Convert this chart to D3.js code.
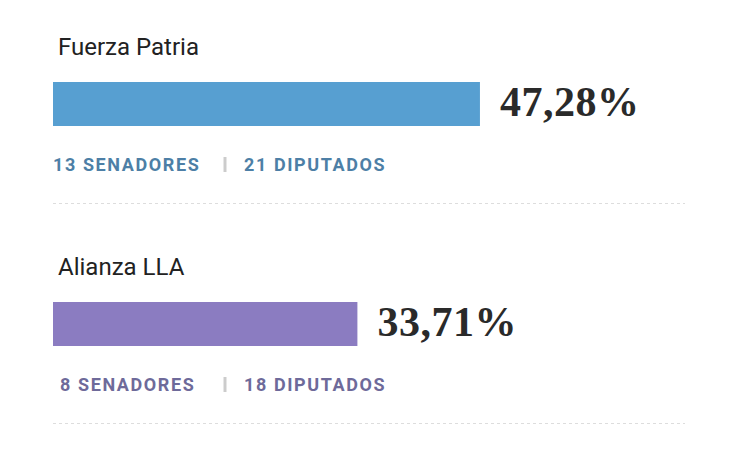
<!DOCTYPE html><html><head><meta charset="utf-8">
<script src="https://cdn.jsdelivr.net/npm/d3@7"></script>
<style>body{margin:0;background:#fff}</style></head><body>
<script>
const parties=["Fuerza Patria","Alianza LLA"];
const values=[47.28,33.71];
const senadores=[13,8];
const diputados=[21,18];
const colors=["#579fd1","#8b7cc1"];
const textColors=["#4d7fa6","#6e6a9a"];
const W=738,H=469;
const svg=d3.select("body").append("svg").attr("width",W).attr("height",H);
const x=d3.scaleLinear().domain([0,100]).range([53,956]);
const y=d3.scaleBand().domain(parties).range([0,440]);
const fmt=v=>v.toFixed(2).replace(".",",")+"%";
parties.forEach((p,i)=>{
 const g=svg.append("g").attr("transform",`translate(0,${y(p)})`);
 g.append("text").attr("x",58).attr("y",55).text(p).attr("font-family","Roboto").attr("font-size",24).attr("fill","#222");
 g.append("rect").attr("x",x(0)).attr("y",82).attr("width",x(values[i])-x(0)).attr("height",44).attr("fill",colors[i]);
 g.append("text").attr("x",x(values[i])+20).attr("y",116).text(fmt(values[i])).attr("font-family","Liberation Serif").attr("font-weight","bold").attr("font-size",42).attr("fill","#2a2a2a").attr("letter-spacing",0.5);
 const t=g.append("text").attr("y",171).attr("font-family","Roboto").attr("font-weight","bold").attr("font-size",18).attr("fill",textColors[i]).attr("letter-spacing",1.6);
 t.append("tspan").attr("x",i==0?53:60).text((senadores[i]+(i==0?" ":"  "))+"SENADORES");
 t.append("tspan").attr("x",244).text(diputados[i]+" DIPUTADOS");
 g.append("line").attr("x1",225).attr("x2",225).attr("y1",157).attr("y2",172).attr("stroke","#ccc").attr("stroke-width",3);
 g.append("line").attr("x1",53).attr("x2",685).attr("y1",203.5).attr("y2",203.5).attr("stroke","#ddd").attr("stroke-dasharray","3,3");
});
</script></body></html>
